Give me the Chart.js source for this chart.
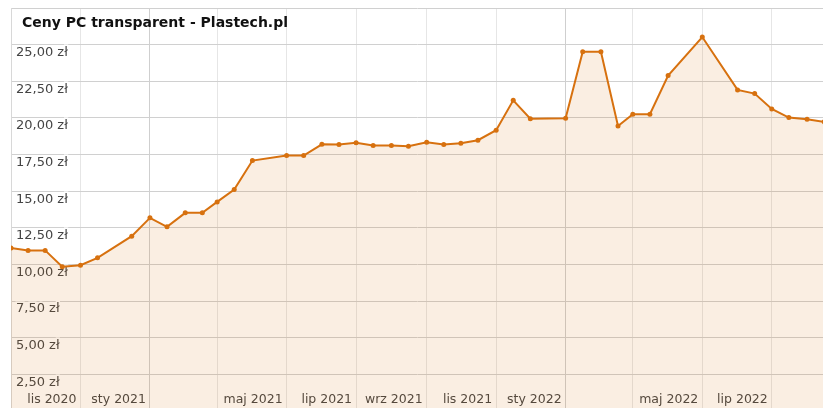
<!DOCTYPE html>
<html>
<head>
<meta charset="utf-8">
<script src="https://cdn.jsdelivr.net/npm/chart.js@4"></script>
<style>
    html, body { margin: 0; padding: 0; background: #fff; overflow: hidden; }
    #wrap { position: relative; width: 823px; height: 419px; }
</style>
</head>
<body>
<div id="wrap"><canvas id="chart"></canvas></div>
<script>
// Ceny PC transparent - Plastech.pl

// dane
const priceDates = [
    '2020-09-01', '2020-09-16', '2020-10-01', '2020-10-16', '2020-11-01', '2020-11-16',
    '2020-12-16', '2021-01-01', '2021-01-16', '2021-02-01', '2021-02-16', '2021-03-01',
    '2021-03-16', '2021-04-01', '2021-05-01', '2021-05-16', '2021-06-01', '2021-06-16',
    '2021-07-01', '2021-07-16', '2021-08-01', '2021-08-16', '2021-09-01', '2021-09-16',
    '2021-10-01', '2021-10-16', '2021-11-01', '2021-11-16', '2021-12-01', '2022-01-01',
    '2022-01-16', '2022-02-01', '2022-02-16', '2022-03-01', '2022-03-16', '2022-04-01',
    '2022-05-01', '2022-06-01', '2022-06-16', '2022-07-01', '2022-07-16', '2022-08-01',
    '2022-08-16'
];
const prices = [
    11.13, 10.96, 10.96, 9.84, 9.95, 10.45,
    11.93, 13.18, 12.57, 13.52, 13.52, 14.27,
    15.11, 17.09, 17.43, 17.43, 18.20, 18.18,
    18.30, 18.11, 18.11, 18.07, 18.34, 18.18,
    18.27, 18.48, 19.16, 21.20, 19.95, 19.98,
    24.52, 24.52, 19.45, 20.25, 20.25, 22.89,
    25.52, 21.91, 21.66, 20.61, 20.02, 19.91,
    19.73
];

// oś X
const xRange = ['2020-09-01', '2022-08-15'];
const xTickDates = [
    '2020-11-01', '2021-01-01', '2021-03-01', '2021-05-01', '2021-07-01', '2021-09-01',
    '2021-11-01', '2022-01-01', '2022-03-01', '2022-05-01', '2022-07-01'
];
const xTickLabels = [
    'lis 2020', 'sty 2021', '', 'maj 2021', 'lip 2021', 'wrz 2021',
    'lis 2021', 'sty 2022', '', 'maj 2022', 'lip 2022'
];

// oś Y
const yMin = 0;
const yMax = 27.5;
const yStep = 2.5;

const TITLE = 'Ceny PC transparent - Plastech.pl';
const LINE_COLOR = '#d7710f';
const FONT = "'DejaVu Sans', 'Liberation Sans', Arial, sans-serif";

// narzędzia
const day = s => {
    const [y, m, d] = s.split('-').map(Number);
    return Date.UTC(y, m - 1, d) / 86400000;
};
const xTickDays = xTickDates.map(day);
const formatZl = v => v.toFixed(2).replace('.', ',') + ' zł';

// bez dodatkowych marginesów od etykiet osi
const noScalePadding = scale => {
    scale.paddingTop = 0;
    scale.paddingBottom = 0;
    scale.paddingLeft = 0;
    scale.paddingRight = 0;
};

// tytuł rysowany wewnątrz obszaru wykresu
const insideTitle = {
    id: 'insideTitle',
    afterDraw(chart) {
        const ctx = chart.ctx;
        ctx.save();
        ctx.font = 'bold 14px ' + FONT;
        ctx.fillStyle = '#111';
        ctx.textBaseline = 'alphabetic';
        ctx.textAlign = 'left';
        ctx.fillText(TITLE, 22, 27);
        ctx.restore();
    }
};

new Chart(document.getElementById('chart'), {
    type: 'line',
    data: {
        datasets: [{
            label: TITLE,
            data: priceDates.map((d, i) => ({ x: day(d), y: prices[i] })),
            borderColor: LINE_COLOR,
            backgroundColor: 'rgba(215, 113, 15, 0.12)',
            borderWidth: 2,
            pointRadius: 2.5,
            pointBackgroundColor: LINE_COLOR,
            pointBorderWidth: 0,
            tension: 0,
            fill: 'origin'
        }]
    },
    options: {
        responsive: true,
        maintainAspectRatio: false,
        animation: false,
        layout: { autoPadding: false, padding: { left: 1, top: 8, right: 0, bottom: 0 } },
        plugins: {
            legend: { display: false },
            title: { display: false },
            tooltip: { enabled: false }
        },
        scales: {
            x: {
                type: 'linear',
                min: day(xRange[0]),
                max: day(xRange[1]),
                afterBuildTicks(scale) {
                    scale.ticks = xTickDays.map(v => ({ value: v }));
                },
                afterFit: noScalePadding,
                grid: {
                    drawTicks: false,
                    color: ctx => (ctx.tick && new Date(ctx.tick.value * 86400000).getUTCMonth() === 0)
                        ? '#cfcfcf' : '#e6e6e6'
                },
                border: { display: false },
                ticks: {
                    mirror: true,
                    padding: 4,
                    align: 'end',
                    labelOffset: -4,
                    maxRotation: 0,
                    autoSkip: false,
                    color: '#444',
                    textStrokeColor: '#fff',
                    textStrokeWidth: 3,
                    font: { family: FONT, size: 12.5 },
                    callback: v => {
                        const i = xTickDays.indexOf(v);
                        return i >= 0 ? xTickLabels[i] : '';
                    }
                }
            },
            y: {
                min: yMin,
                max: yMax,
                afterFit: noScalePadding,
                grid: { drawTicks: false, color: '#d0d0d0' },
                border: { display: true, color: '#d8d8d8' },
                ticks: {
                    stepSize: yStep,
                    mirror: true,
                    padding: 5,
                    labelOffset: 8,
                    color: '#444',
                    textStrokeColor: '#fff',
                    textStrokeWidth: 3,
                    font: { family: FONT, size: 13 },
                    callback: v => (v <= yMin || v >= yMax) ? '' : formatZl(v)
                }
            }
        }
    },
    plugins: [insideTitle]
});
</script>
</body>
</html>
